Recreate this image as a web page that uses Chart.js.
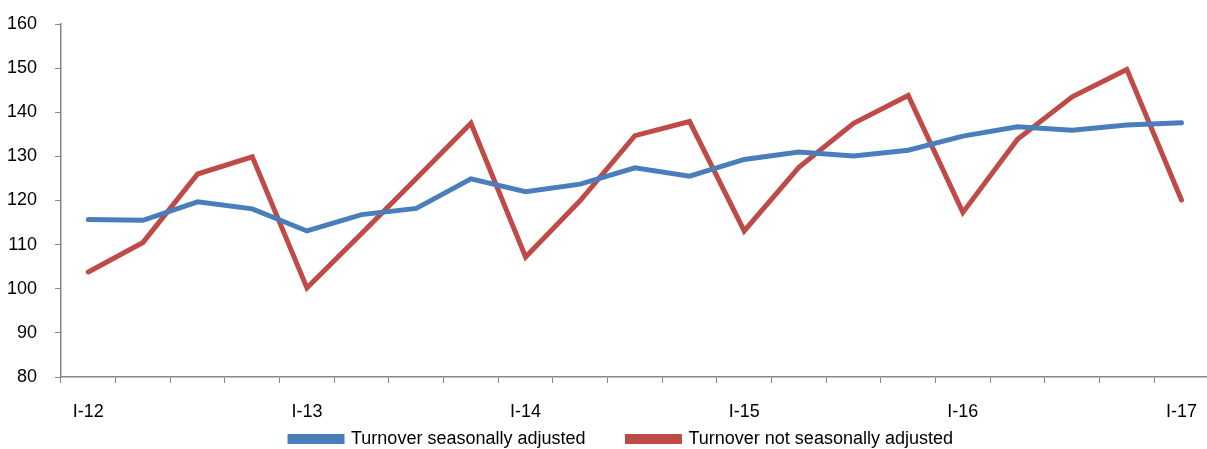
<!DOCTYPE html>
<html lang="en">
<head>
  <meta charset="UTF-8" />
  <title>Turnover</title>
  <script src="https://cdn.jsdelivr.net/npm/chart.js"></script>
  <style>
    body {
      margin: 0;
      background: #ffffff;
      overflow: hidden;
    }

    .chart-box {
      width: 1215px;
      height: 449px;
    }
  </style>
</head>
<body>

  <div class="chart-box">
    <canvas id="turnoverChart"></canvas>
  </div>

  <script>
    // quarters I-12 .. I-17
    const quarters = [
      'I-12', 'II-12', 'III-12', 'IV-12',
      'I-13', 'II-13', 'III-13', 'IV-13',
      'I-14', 'II-14', 'III-14', 'IV-14',
      'I-15', 'II-15', 'III-15', 'IV-15',
      'I-16', 'II-16', 'III-16', 'IV-16',
      'I-17'
    ];

    const seasonallyAdjusted = [
      115.7, 115.5, 119.7, 118.1,
      113.1, 116.8, 118.2, 124.9,
      122.0, 123.7, 127.4, 125.5,
      129.3, 131.0, 130.1, 131.4,
      134.6, 136.7, 135.9, 137.1,
      137.6
    ];

    const notSeasonallyAdjusted = [
      103.8, 110.5, 126.0, 129.9,
      100.2, 112.5, 125.0, 137.5,
      107.2, 120.0, 134.7, 137.9,
      113.1, 127.5, 137.5, 143.8,
      117.3, 133.9, 143.5, 149.7,
      120.1
    ];

    const yTicks = [80, 90, 100, 110, 120, 130, 140, 150, 160];

    const fontFamily = "'Liberation Sans', Arial, sans-serif";
    const axisGray = '#868686';

    // legend: shorter box than Chart.js makes, then moved into place
    const legendTweak = {
      id: 'legendTweak',
      afterInit(chart) {
        const legend = chart.legend;
        const fit = legend.fit;
        legend.fit = function () {
          fit.call(this);
          this.height = 31;
        };
      },
      afterLayout(chart) {
        const legend = chart.legend;
        legend.left += 14;
        legend.right += 14;
        legend.top = 388;
        legend.bottom = 449;
      }
    };

    const ctx = document.getElementById('turnoverChart').getContext('2d');

    const turnoverChart = new Chart(ctx, {
      type: 'line',
      data: {
        labels: quarters,
        datasets: [
          {
            label: 'Turnover seasonally adjusted',
            data: seasonallyAdjusted,
            borderColor: '#4a7ebb',
            backgroundColor: '#4a7ebb',
            borderWidth: 5,
            borderCapStyle: 'round',
            pointRadius: 0,
            tension: 0
          },
          {
            label: 'Turnover not seasonally adjusted',
            data: notSeasonallyAdjusted,
            borderColor: '#be4b48',
            backgroundColor: '#be4b48',
            borderWidth: 5,
            borderCapStyle: 'round',
            pointRadius: 0,
            tension: 0
          }
        ]
      },
      plugins: [legendTweak],
      options: {
        responsive: true,
        maintainAspectRatio: false,
        animation: false,
        layout: {
          padding: { top: 24, right: 0, bottom: 0, left: 0 }
        },
        plugins: {
          tooltip: { enabled: false },
          legend: {
            position: 'bottom',
            labels: {
              color: '#000000',
              font: { family: fontFamily, size: 18 },
              boxWidth: 52,
              boxHeight: 5,
              padding: 42
            }
          }
        },
        scales: {
          x: {
            offset: true,
            grid: {
              offset: true,
              drawOnChartArea: false,
              drawTicks: true,
              tickLength: 6,
              tickColor: axisGray
            },
            border: { color: axisGray, width: 1.5 },
            ticks: {
              autoSkip: false,
              maxRotation: 0,
              padding: 18,
              color: '#000000',
              font: { family: fontFamily, size: 18 },
              callback: function (value, index) {
                return index % 4 === 0 ? quarters[index] : '';
              }
            },
            afterFit: function (scale) {
              scale.height = 41;
            }
          },
          y: {
            min: yTicks[0],
            max: yTicks[yTicks.length - 1],
            afterBuildTicks: function (scale) {
              scale.ticks = yTicks.map(v => ({ value: v }));
            },
            grid: {
              drawOnChartArea: false,
              drawTicks: true,
              tickLength: 6,
              tickColor: axisGray
            },
            border: { color: axisGray, width: 1.5 },
            ticks: {
              padding: 18,
              color: '#000000',
              font: { family: fontFamily, size: 18 }
            },
            afterFit: function (scale) {
              scale.width = 61;
              scale.paddingTop = 0;
              scale.paddingBottom = 0;
            }
          }
        }
      }
    });
  </script>
</body>
</html>
